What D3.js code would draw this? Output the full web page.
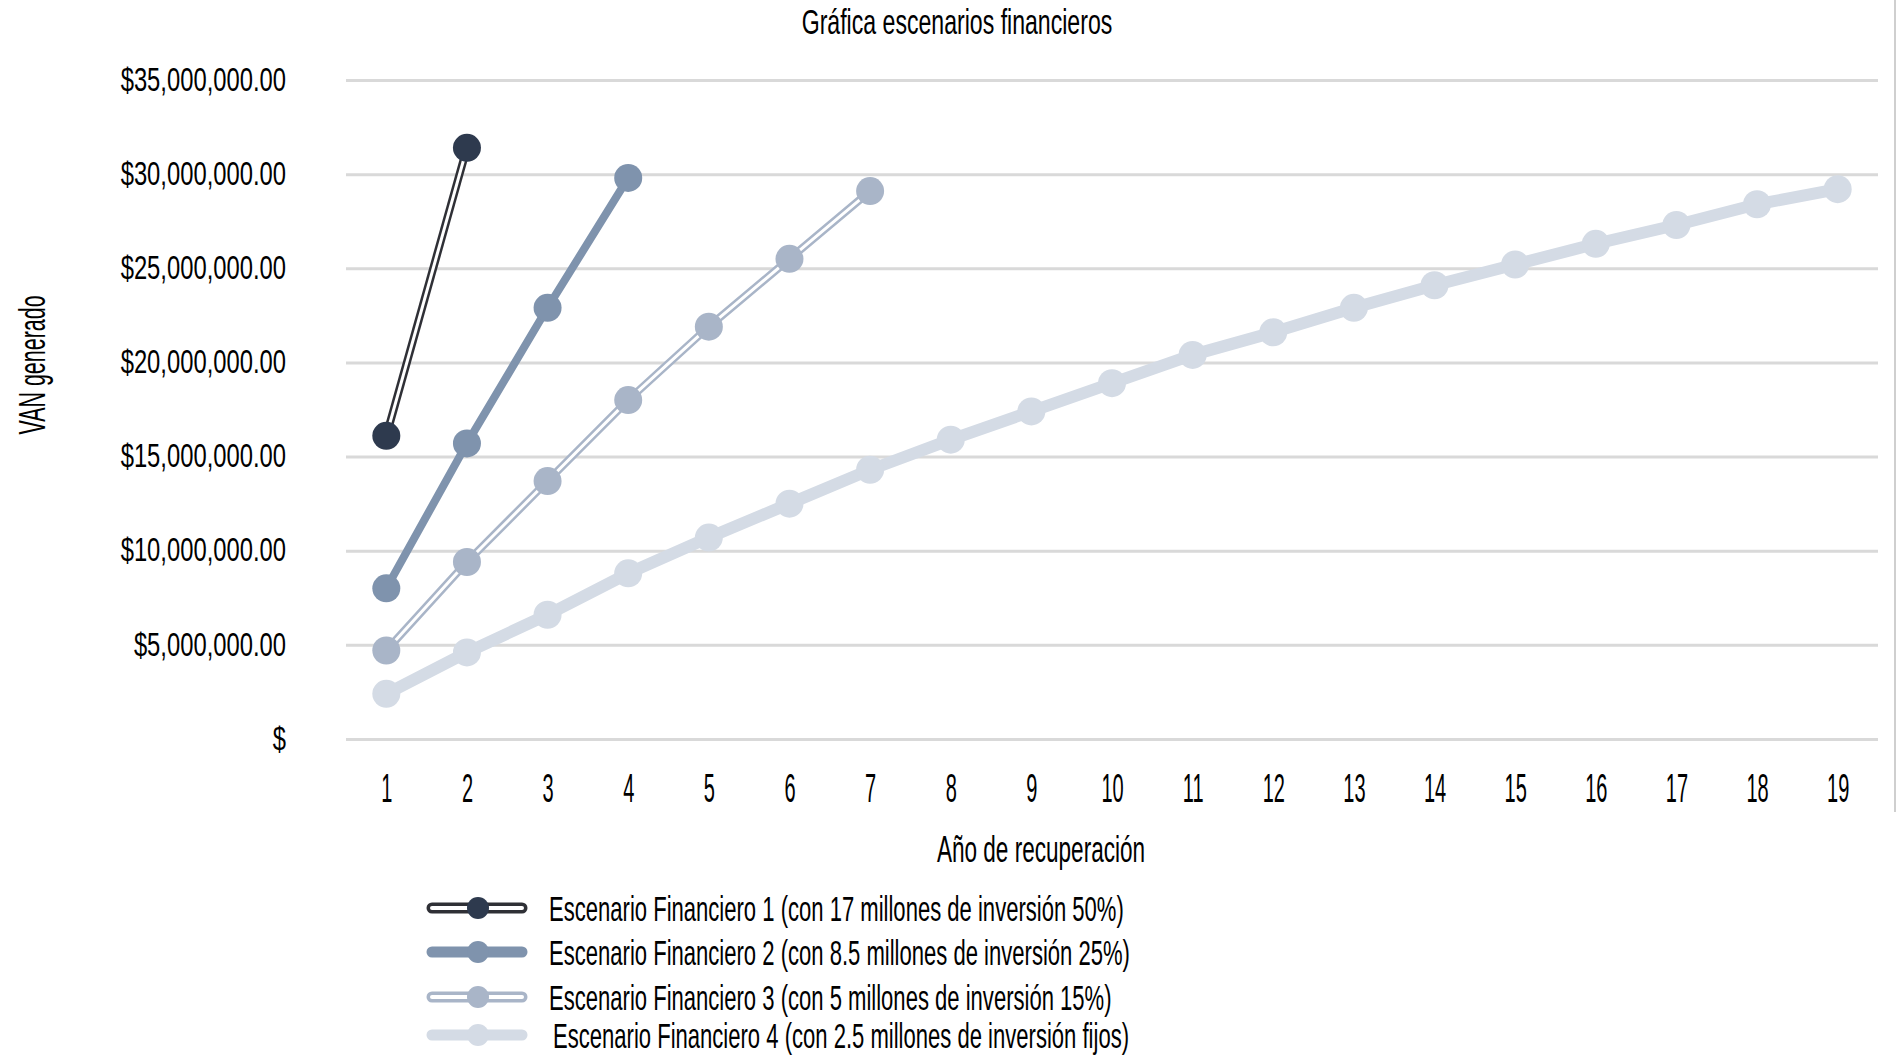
<!DOCTYPE html>
<html lang="es">
<head>
    <meta charset="UTF-8">
    <title>Gráfica escenarios financieros</title>
    <script src="https://d3js.org/d3.v7.min.js"></script>
</head>

<style>
    body {
        margin: 0;
        background: #ffffff;
    }

    text {
        font-family: "Liberation Sans", Arial, sans-serif;
        fill: #000000;
    }

    .grid line {
        stroke: #d9d9d9;
        stroke-width: 3px;
    }

    .grid .domain {
        display: none;
    }
</style>

<body>
<svg id="chart" width="1902" height="1056"></svg>

<script>

    // datos (VAN en pesos)
    var years = [1, 2, 3, 4, 5, 6, 7, 8, 9, 10, 11, 12, 13, 14, 15, 16, 17, 18, 19];
    var yTicks = [0, 5000000, 10000000, 15000000, 20000000, 25000000, 30000000, 35000000];

    var escenario1 = [16100000, 31400000];
    var escenario2 = [8000000, 15700000, 22900000, 29800000];
    var escenario3 = [4700000, 9400000, 13700000, 18000000, 21900000, 25500000, 29100000];
    var escenario4 = [2400000, 4600000, 6600000, 8800000, 10700000, 12500000, 14300000, 15900000,
        17400000, 18900000, 20400000, 21600000, 22900000, 24100000, 25200000, 26300000, 27300000,
        28400000, 29200000];

    var nombres = [
        "Escenario Financiero 1 (con 17 millones de inversión 50%)",
        "Escenario Financiero 2 (con 8.5 millones de inversión 25%)",
        "Escenario Financiero 3 (con 5 millones de inversión 15%)",
        "Escenario Financiero 4 (con 2.5 millones de inversión fijos)"
    ];

    var series = [
        {name: nombres[0], values: escenario1, color: "#2e3a4e", line: "#2f3036", hollow: true, width: 8},
        {name: nombres[1], values: escenario2, color: "#7f93ad", line: "#7f93ad", hollow: false, width: 8},
        {name: nombres[2], values: escenario3, color: "#a9b5c8", line: "#a9b5c8", hollow: true, width: 8},
        {name: nombres[3], values: escenario4, color: "#d4dbe5", line: "#d4dbe5", hollow: false, width: 12}
    ];

    var svg = d3.select("#chart");

    var plotLeft = 346, plotRight = 1878, plotTop = 80, plotBottom = 739;

    var x = d3.scalePoint().domain(years).range([plotLeft, plotRight]).padding(0.5);
    var y = d3.scaleLinear().domain([0, 35000000]).range([plotBottom, plotTop]);

    // the source font is very narrow, so squeeze the text horizontally
    function squeeze(sel, k) {
        sel.each(function() {
            var t = d3.select(this);
            var tx = +t.attr("x") || 0, ty = +t.attr("y") || 0;
            t.attr("x", 0).attr("y", 0)
                .attr("transform", "translate(" + tx + "," + ty + ") scale(" + k + ",1)");
        });
    }

    // right border
    svg.append("line")
        .attr("x1", 1895).attr("x2", 1895)
        .attr("y1", 0).attr("y2", 812)
        .style("stroke", "#cfcfcf")
        .style("stroke-width", 2);

    // grid + y labels
    var yAxis = svg.append("g")
        .attr("class", "grid")
        .attr("transform", "translate(" + plotLeft + ",0)")
        .call(d3.axisLeft(y)
            .tickValues(yTicks)
            .tickSize(-(plotRight - plotLeft))
            .tickPadding(60)
            .tickFormat(function(d) { return d === 0 ? "$" : d3.format("$,.2f")(d); }));

    yAxis.selectAll("text")
        .style("font-size", "34px")
        .attr("dy", "0.3em");
    squeeze(yAxis.selectAll("text"), 0.70);

    // x labels
    var xAxis = svg.append("g")
        .attr("class", "grid")
        .attr("transform", "translate(0," + plotBottom + ")")
        .call(d3.axisBottom(x).tickSize(0).tickPadding(35));
    xAxis.selectAll("text")
        .style("font-size", "40px")
        .attr("dy", "0.71em");
    squeeze(xAxis.selectAll("text"), 0.5);

    // lines
    var line = d3.line()
        .x(function(d, i) { return x(years[i]); })
        .y(function(d) { return y(d); });

    var lineas = svg.append("g").attr("class", "lines");

    series.forEach(function(s) {
        var g = lineas.append("g");
        g.append("path")
            .attr("d", line(s.values))
            .style("fill", "none")
            .style("stroke", s.line)
            .style("stroke-width", s.width)
            .style("stroke-linejoin", "round");
        if (s.hollow) {
            g.append("path")
                .attr("d", line(s.values))
                .style("fill", "none")
                .style("stroke", "#ffffff")
                .style("stroke-width", 3);
        }
        g.selectAll("circle")
            .data(s.values)
            .enter().append("circle")
            .attr("cx", function(d, i) { return x(years[i]); })
            .attr("cy", function(d) { return y(d); })
            .attr("r", 14)
            .style("fill", s.color);
    });

    // titles
    svg.append("text")
        .attr("x", 957).attr("y", 34)
        .attr("text-anchor", "middle")
        .style("font-size", "35px")
        .text("Gráfica escenarios financieros")
        .call(squeeze, 0.66);

    svg.append("text")
        .attr("x", 1041).attr("y", 862)
        .attr("text-anchor", "middle")
        .style("font-size", "37px")
        .text("Año de recuperación")
        .call(squeeze, 0.61);

    svg.append("text")
        .attr("text-anchor", "middle")
        .attr("transform", "translate(45,365) rotate(-90) scale(0.58,1)")
        .style("font-size", "37px")
        .text("VAN generado");

    // legend
    var legendY = [908, 952, 997, 1035];
    var legend = svg.append("g").attr("class", "legend");

    series.forEach(function(s, i) {
        var g = legend.append("g").attr("transform", "translate(0," + legendY[i] + ")");
        g.append("line")
            .attr("x1", 432).attr("x2", 522)
            .style("stroke", s.line)
            .style("stroke-width", 11)
            .style("stroke-linecap", "round");
        if (s.hollow) {
            g.append("line")
                .attr("x1", 432).attr("x2", 522)
                .style("stroke", "#ffffff")
                .style("stroke-width", 4)
                .style("stroke-linecap", "round");
        }
        g.append("circle")
            .attr("cx", 478).attr("cy", 0).attr("r", 11)
            .style("fill", s.color);
        g.append("text")
            .attr("x", i === 3 ? 553 : 549).attr("y", 13)
            .style("font-size", "35px")
            .text(s.name)
            .call(squeeze, 0.63);
    });

</script>

</body>
</html>
